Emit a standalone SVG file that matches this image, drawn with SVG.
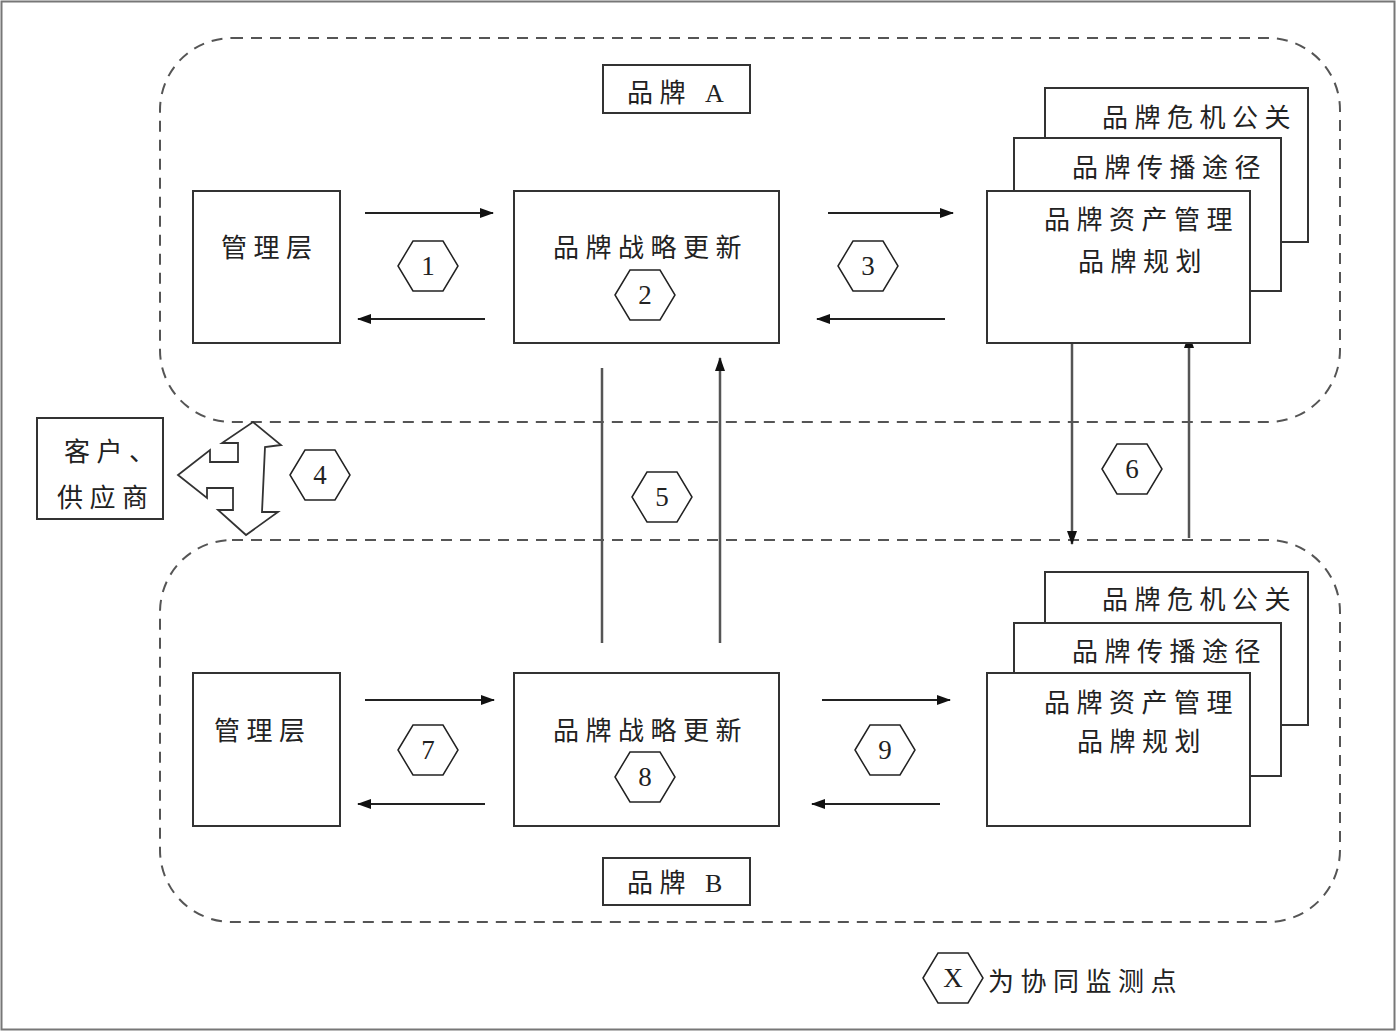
<svg xmlns="http://www.w3.org/2000/svg" xmlns:xlink="http://www.w3.org/1999/xlink" width="1396" height="1031" viewBox="0 0 1396 1031">
<style>
.box{fill:#fff;stroke:#333;stroke-width:2}
.region{fill:none;stroke:#555;stroke-width:2;stroke-dasharray:11 8}
.cn{font-family:"Liberation Serif","Noto Sans CJK SC",serif;font-size:26px;fill:#222;letter-spacing:6.5px}
.num{font-family:"Liberation Serif",serif;font-size:27px;fill:#222;text-anchor:middle}
.ln{stroke:#222;stroke-width:2;fill:none}
.gl{stroke:#555;stroke-width:2.5;fill:none}
.hex{fill:#fff;stroke:#222;stroke-width:1.5}
</style>
<defs>
<marker id="ah" viewBox="0 0 14 10" refX="13" refY="5" markerWidth="14" markerHeight="10" markerUnits="userSpaceOnUse" orient="auto">
<path d="M0,0 L14,5 L0,10 Z" fill="#111"/>
</marker>
<polygon id="hex" points="-30,0 -15,-25 15,-25 30,0 15,25 -15,25"/>
</defs>
<rect x="0" y="0" width="1396" height="1031" fill="#fff"/>
<rect x="1.5" y="1.5" width="1393" height="1028" fill="none" stroke="#777" stroke-width="2"/>

<g id="regions">
<rect class="region" x="160" y="38" width="1180" height="384" rx="72" ry="72"/>
<rect class="region" x="160" y="540" width="1180" height="382" rx="72" ry="72"/>
</g>

<g id="connectors">
<line class="ln" x1="365" y1="213" x2="493" y2="213" marker-end="url(#ah)"/>
<line class="ln" x1="485" y1="319" x2="358" y2="319" marker-end="url(#ah)"/>
<line class="ln" x1="828" y1="213" x2="953" y2="213" marker-end="url(#ah)"/>
<line class="ln" x1="945" y1="319" x2="817" y2="319" marker-end="url(#ah)"/>
<line class="ln" x1="365" y1="700" x2="494" y2="700" marker-end="url(#ah)"/>
<line class="ln" x1="485" y1="804" x2="358" y2="804" marker-end="url(#ah)"/>
<line class="ln" x1="822" y1="700" x2="950" y2="700" marker-end="url(#ah)"/>
<line class="ln" x1="940" y1="804" x2="812" y2="804" marker-end="url(#ah)"/>
<line class="gl" x1="602" y1="368" x2="602" y2="643"/>
<line class="gl" x1="720" y1="643" x2="720" y2="358" marker-end="url(#ah)"/>
<line class="gl" x1="1072" y1="343" x2="1072" y2="544" marker-end="url(#ah)"/>
<line class="gl" x1="1189" y1="538" x2="1189" y2="335" marker-end="url(#ah)"/>
<polygon points="253,422 281,445 265,447 262,512 278,512 246,535 218,510 233,510 233,488 207,488 207,498 178,475 210,450 210,462 238,462 238,443 222,443" fill="#fff" stroke="#333" stroke-width="1.8" stroke-linejoin="miter"/>
</g>

<g id="brandA-label">
<rect class="box" x="603" y="65" width="147" height="48"/>
<text class="cn" x="627" y="102">品牌 A</text>
</g>
<g id="mgmtA">
<rect class="box" x="193" y="191" width="147" height="152"/>
<text class="cn" x="221" y="257">管理层</text>
</g>
<g id="stratA">
<rect class="box" x="514" y="191" width="265" height="152"/>
<text class="cn" x="553" y="257">品牌战略更新</text>
</g>
<g id="stackA">
<rect class="box" x="1045" y="88" width="263" height="154"/>
<text class="cn" x="1102" y="127">品牌危机公关</text>
<rect class="box" x="1014" y="138" width="267" height="153"/>
<text class="cn" x="1072" y="177">品牌传播途径</text>
<rect class="box" x="987" y="191" width="263" height="152"/>
<text class="cn" x="1044" y="229">品牌资产管理</text>
<text class="cn" x="1078" y="271">品牌规划</text>
</g>

<g id="client">
<rect class="box" x="37" y="418" width="126" height="101"/>
<text class="cn" x="64" y="461">客户、</text>
<text class="cn" x="57" y="507">供应商</text>
</g>

<g id="mgmtB">
<rect class="box" x="193" y="673" width="147" height="153"/>
<text class="cn" x="214" y="740">管理层</text>
</g>
<g id="stratB">
<rect class="box" x="514" y="673" width="265" height="153"/>
<text class="cn" x="553" y="740">品牌战略更新</text>
</g>
<g id="stackB">
<rect class="box" x="1045" y="572" width="263" height="153"/>
<text class="cn" x="1102" y="609">品牌危机公关</text>
<rect class="box" x="1014" y="623" width="267" height="153"/>
<text class="cn" x="1072" y="661">品牌传播途径</text>
<rect class="box" x="987" y="673" width="263" height="153"/>
<text class="cn" x="1044" y="712">品牌资产管理</text>
<text class="cn" x="1077" y="751">品牌规划</text>
</g>
<g id="brandB-label">
<rect class="box" x="603" y="858" width="147" height="47"/>
<text class="cn" x="627" y="892">品牌 B</text>
</g>

<g id="hexes">
<use xlink:href="#hex" class="hex" x="428" y="266"/><text class="num" x="428" y="275">1</text>
<use xlink:href="#hex" class="hex" x="645" y="295"/><text class="num" x="645" y="304">2</text>
<use xlink:href="#hex" class="hex" x="868" y="266"/><text class="num" x="868" y="275">3</text>
<use xlink:href="#hex" class="hex" x="320" y="475"/><text class="num" x="320" y="484">4</text>
<use xlink:href="#hex" class="hex" x="662" y="497"/><text class="num" x="662" y="506">5</text>
<use xlink:href="#hex" class="hex" x="1132" y="469"/><text class="num" x="1132" y="478">6</text>
<use xlink:href="#hex" class="hex" x="428" y="750"/><text class="num" x="428" y="759">7</text>
<use xlink:href="#hex" class="hex" x="645" y="777"/><text class="num" x="645" y="786">8</text>
<use xlink:href="#hex" class="hex" x="885" y="750"/><text class="num" x="885" y="759">9</text>
</g>

<g id="legend">
<use xlink:href="#hex" class="hex" x="953" y="978"/><text class="num" x="953" y="987">X</text>
<text class="cn" x="988" y="991">为协同监测点</text>
</g>
</svg>
